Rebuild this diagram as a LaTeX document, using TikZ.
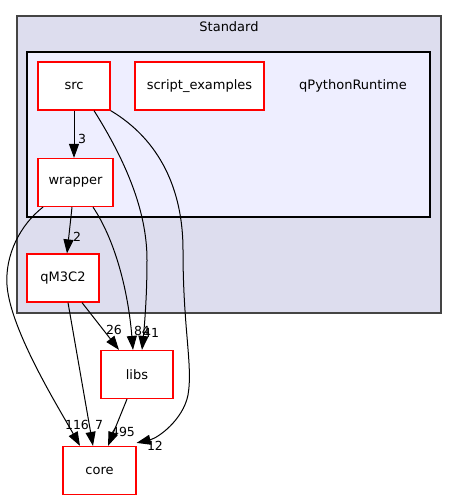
\documentclass[tikz,border=0pt]{standalone}
\usepackage{fontspec}
\setmainfont{DejaVu Sans}
\usetikzlibrary{arrows.meta}
\definecolor{outerfill}{HTML}{DDDDEE}
\definecolor{innerfill}{HTML}{EEEEFF}
\definecolor{outerline}{HTML}{444444}
\begin{document}
\begin{tikzpicture}[x=1pt,y=-1pt,
  dirbox/.style={draw=red,fill=white,line width=1.2pt,minimum width=72pt,minimum height=48pt,inner sep=0pt,font=\fontsize{13}{15}\selectfont},
  edge/.style={draw=black,line width=1pt,-{Triangle[length=14pt,width=10pt]}},
  elab/.style={font=\fontsize{12.5}{14}\selectfont,inner sep=0pt}]
\useasboundingbox (0,0) rectangle (457,500);
% clusters
\draw[fill=outerfill,draw=outerline,line width=1.3pt] (17,16) rectangle (441,313);
\node[font=\fontsize{13}{15}\selectfont] (stdlab) at (229,27) {Standard};
\draw[fill=innerfill,draw=black,line width=1.2pt] (27,52) rectangle (430,217);
\node[font=\fontsize{13}{15}\selectfont] (qpylab) at (353,86) {qPythonRuntime};
% nodes
\node[dirbox,minimum width=72pt] (src) at (74,86) {src};
\node[dirbox,minimum width=129pt] (scr) at (199.5,86) {script\_examples};
\node[dirbox,minimum width=75pt] (wrapper) at (75.5,182.5) {wrapper};
\node[dirbox,minimum width=72pt] (qm) at (63,278) {qM3C2};
\node[dirbox,minimum width=72pt] (libs) at (137,374.5) {libs};
\node[dirbox,minimum width=73pt] (core) at (99.5,470.5) {core};
% edges
\draw[edge] (src.south) -- (wrapper.north -| src.south);
\node[elab] (l3) at (82,139) {3};
\draw[edge] ([xshift=-3.5pt]wrapper.south) -- ([xshift=4pt]qm.north);
\node[elab] (l2) at (77,237) {2};
\draw[edge] ([xshift=20pt]src.south) .. controls (125,160) and (147,210) .. (147,260) .. controls (147,300) and (144,330) .. ([xshift=5pt]libs.north);
\draw[edge] (src.south east) .. controls (160,140) and (183,190) .. (183,250) .. controls (183,330) and (193,365) .. (188,395) .. controls (183,420) and (158,438) .. ([yshift=3pt]core.north east);
\draw[edge] ([xshift=17.5pt]wrapper.south) .. controls (115,240) and (128,290) .. ([xshift=-4pt]libs.north);
\draw[edge] ([xshift=-32.5pt]wrapper.south) .. controls (20,225) and (5,255) .. (7,285) .. controls (10,330) and (60,410) .. ([xshift=-19.5pt]core.north);
\draw[edge] ([xshift=5pt]qm.south) -- ([xshift=-6.5pt]core.north);
\draw[edge] ([xshift=19pt]qm.south) -- ([xshift=-18pt]libs.north);
\draw[edge] ([xshift=-10pt]libs.south) -- ([xshift=8.5pt]core.north);
\node[elab] (l26) at (114,330) {26};
\node[elab] (l84) at (142,331) {84};
\node[elab] (l41) at (151,333) {41};
\node[elab] (l116) at (77,425) {116};
\node[elab] (l7) at (99,425) {7};
\node[elab] (l495) at (123,432) {495};
\node[elab] (l12) at (155,446) {12};
\end{tikzpicture}
\end{document}
